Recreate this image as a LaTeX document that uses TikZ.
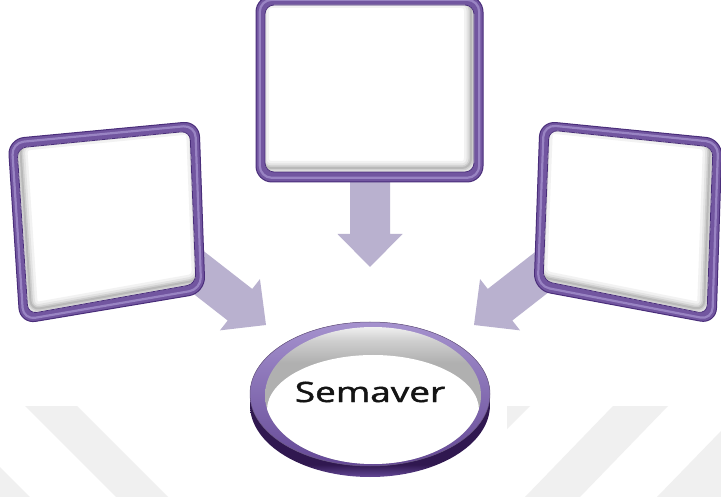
\documentclass[tikz,border=0pt]{standalone}
\usepackage{fontspec}
\setmainfont{Open Sans}
\newfontfamily\semfont[FakeBold=1.4]{Open Sans}
\usepackage{graphicx}
\usetikzlibrary{calc}
\definecolor{arrowc}{RGB}{185,177,207}
\definecolor{framec}{RGB}{114,86,160}
\definecolor{framed}{RGB}{74,46,122}
\definecolor{framel}{RGB}{170,152,210}
\definecolor{wmark}{RGB}{240,240,240}
\definecolor{ringtop}{RGB}{165,146,206}
\definecolor{ringmid}{RGB}{100,72,150}
\definecolor{ringdark}{RGB}{48,24,80}
\pgfdeclareverticalshading{crescent}{100bp}{color(0bp)=(gray!62); color(62bp)=(gray!62); color(70bp)=(gray!38); color(75bp)=(gray!12); color(100bp)=(gray!12)}
\pgfdeclareverticalshading{ringwall}{100bp}{color(0bp)=(ringmid); color(25bp)=(ringmid); color(29bp)=(ringdark); color(100bp)=(ringdark)}
\tikzset{
  arrowfill/.style={fill=arrowc},
  panelouter/.style={fill=framec, draw=framed, line width=1pt, rounded corners=16pt},
  panelinner/.style={rounded corners=9pt},
  wmarkfill/.style={fill=wmark},
}
% block arrow from #1 (start, centre of shaft) to #2 (tip); #3 = name prefix
\newcommand\blockarrow[3]{%
  \coordinate (#3h) at ($(#2)!33pt!(#1)$);
  \fill[arrowfill] ($(#1)!20pt!90:(#2)$) -- ($(#3h)!20pt!90:(#2)$) -- ($(#3h)!32.5pt!90:(#2)$) -- (#2)
     -- ($(#3h)!32.5pt!-90:(#2)$) -- ($(#3h)!20pt!-90:(#2)$) -- ($(#1)!20pt!-90:(#2)$) -- cycle;}
% framed panel from coordinates #1o1..#1o4 (outer) and #1i1..#1i4 (inner); #2 = shadow shift
\newcommand\drawpanel[2]{%
  \path[panelouter] (#1o1)--(#1o2)--(#1o3)--(#1o4)--cycle;
  \draw[framel, line width=2.2pt, rounded corners=12pt, opacity=0.7]
     ($(#1o1)!0.42!(#1i1)$)--($(#1o2)!0.42!(#1i2)$)--($(#1o3)!0.42!(#1i3)$)--($(#1o4)!0.42!(#1i4)$)--cycle;
  \fill[white, panelinner] (#1i1)--(#1i2)--(#1i3)--(#1i4)--cycle;
  \begin{scope}
    \clip[panelinner] (#1i1)--(#1i2)--(#1i3)--(#1i4)--cycle;
    \foreach \w/\c in {14/10,9/22,5/38,2/55}{
      \draw[gray!\c, line width=\w pt, panelinner]
        ($(#1i1)+(#2)$)--($(#1i2)+(#2)$)--($(#1i3)+(#2)$)--($(#1i4)+(#2)$)--cycle;}
  \end{scope}
  \draw[framed, line width=0.8pt, panelinner] (#1i1)--(#1i2)--(#1i3)--(#1i4)--cycle;
}
\begin{document}
\begin{tikzpicture}[x=1pt,y=-1pt]
\useasboundingbox (0,0) rectangle (721,497);
\fill[white] (0,0) rectangle (721,497);
% watermark bands
\fill[wmarkfill] (0,467) -- (30,497) -- (0,497) -- cycle;
\fill[wmarkfill] (25,406) -- (77,406) -- (168,497) -- (116,497) -- cycle;
\fill[wmarkfill] (507,406) -- (530,406) -- (507,429) -- cycle;
\fill[wmarkfill] (613,406) -- (668,406) -- (580,497) -- (525,497) -- cycle;
\fill[wmarkfill] (721,431) -- (657,497) -- (721,497) -- cycle;

% arrows (behind the panels)
\coordinate (ta) at (370,170); \coordinate (tt) at (370,267);
\coordinate (la) at (180,258); \coordinate (lt) at (266,325);
\coordinate (ra) at (560,258); \coordinate (rt) at (474,325);
\blockarrow{ta}{tt}{tarr}
\blockarrow{la}{lt}{larr}
\blockarrow{ra}{rt}{rarr}

% top panel
\coordinate (To1) at (256,-4);  \coordinate (To2) at (483,-4);
\coordinate (To3) at (483,182); \coordinate (To4) at (256,182);
\coordinate (Ti1) at (265,5);   \coordinate (Ti2) at (474,5);
\coordinate (Ti3) at (474,172); \coordinate (Ti4) at (265,172);
\drawpanel{T}{-3,-4}
% left panel
\coordinate (Lo1) at (8,139);   \coordinate (Lo2) at (199,121);
\coordinate (Lo3) at (205,293); \coordinate (Lo4) at (20,324);
\coordinate (Li1) at (17,148);  \coordinate (Li2) at (190,131);
\coordinate (Li3) at (196,284); \coordinate (Li4) at (28,314);
\drawpanel{L}{3,-4}
% right panel
\coordinate (Ro1) at (540,121); \coordinate (Ro2) at (722,139);
\coordinate (Ro3) at (716,324); \coordinate (Ro4) at (534,290);
\coordinate (Ri1) at (549,130); \coordinate (Ri2) at (713,147);
\coordinate (Ri3) at (707,314); \coordinate (Ri4) at (543,281);
\drawpanel{R}{-3,-4}

% ring
\path[shading=ringwall] (250,394) arc[start angle=180, end angle=360, x radius=120, y radius=72]
   -- (490,405) arc[start angle=0, end angle=180, x radius=120, y radius=72] -- cycle;
\path[top color=ringtop, bottom color=ringmid] (370,394) ellipse[x radius=120, y radius=72];
\path[shading=crescent] (373,395.5) ellipse[x radius=108, y radius=68.5];
\begin{scope}
  \clip (373,395.5) ellipse[x radius=108, y radius=68.5];
  \fill[white] (373,410) ellipse[x radius=106, y radius=55];
\end{scope}
\draw[ringdark!70, line width=0.5pt] (370,394) ellipse[x radius=120, y radius=72];
\node[text=black!92] (sem) at (370,392) {\semfont\fontsize{28}{30}\selectfont\scalebox{1.32}[1]{Semaver}};
\end{tikzpicture}
\end{document}
